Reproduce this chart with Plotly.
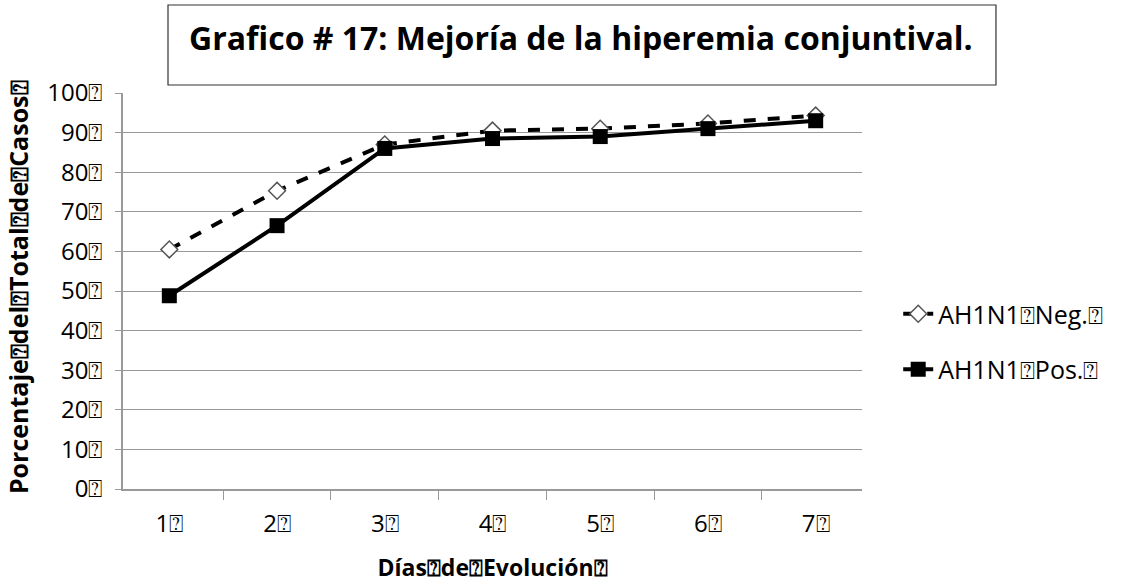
import plotly.graph_objects as go

Q = "\u2370"  # boxed question mark, as shown in the source image

days = ["1", "2", "3", "4", "5", "6", "7"]
neg_values = [60.5, 75.3, 87.0, 90.5, 91.0, 92.3, 94.3]
pos_values = [48.8, 66.5, 86.0, 88.5, 89.0, 91.0, 93.0]
y_ticks = [0, 10, 20, 30, 40, 50, 60, 70, 80, 90, 100]

day_labels = [d + Q for d in days]

fig = go.Figure()
fig.add_trace(go.Scatter(
    x=day_labels, y=neg_values, name="AH1N1" + Q + "Neg." + Q,
    mode="lines+markers", legendgroup="neg",
    line=dict(color="black", width=4, dash="dash"),
    marker=dict(symbol="diamond", size=13, color="white",
                line=dict(color="#555555", width=1.5)),
))
fig.add_trace(go.Scatter(
    x=day_labels, y=pos_values, name="AH1N1" + Q + "Pos." + Q,
    mode="lines+markers", legendgroup="pos",
    line=dict(color="black", width=4),
    marker=dict(symbol="square", size=15, color="black"),
))

# title box
fig.add_shape(type="rect", xref="paper", yref="paper",
              x0=0.0609, x1=1.1813, y0=1.0202, y1=1.2222,
              line=dict(color="#333333", width=1.2), fillcolor="white")
fig.add_annotation(xref="paper", yref="paper", x=0.62, y=1.141,
                   xanchor="center", yanchor="middle",
                   text="<b>Grafico # 17: Mejoría de la hiperemia conjuntival.</b>",
                   showarrow=False, font=dict(size=32, color="black", family="Open Sans"))

# y axis title as annotation to place it at the far left
fig.add_annotation(xref="paper", yref="paper", x=-0.142, y=0.51,
                   xanchor="center", yanchor="middle", textangle=-90,
                   text="<b>Porcentaje" + Q + "del" + Q + "Total" + Q + "de" + Q + "Casos" + Q + "</b>",
                   showarrow=False, font=dict(size=25, color="black", family="Open Sans"))

fig.update_layout(
    width=1130, height=585,
    margin=dict(l=123, r=268, t=93, b=96),
    paper_bgcolor="white", plot_bgcolor="white",
    font=dict(family="Open Sans", color="black", size=22),
    showlegend=True,
    legend=dict(x=1.049, y=0.5, xanchor="left", yanchor="top",
                tracegroupgap=20, font=dict(size=25),
                bgcolor="rgba(0,0,0,0)"),
    xaxis=dict(
        type="category", showline=True, linecolor="#999999", linewidth=1.5,
        ticks="outside", tickson="boundaries", ticklen=9, tickcolor="#999999",
        showgrid=False, tickfont=dict(size=24), automargin=False,
        ticklabelstandoff=12,
        title=dict(text="<b>Días" + Q + "de" + Q + "Evolución" + Q + "</b>",
                   font=dict(size=23), standoff=22),
    ),
    yaxis=dict(
        range=[0, 100], tickvals=y_ticks, ticktext=[f"{v}{Q}" for v in y_ticks],
        showline=True, linecolor="#999999", linewidth=1.5,
        ticks="outside", ticklen=6, tickcolor="#999999",
        showgrid=True, gridcolor="#999999", gridwidth=1.2,
        tickfont=dict(size=24), zeroline=False, automargin=False,
        ticklabelstandoff=8,
    ),
)

fig.write_html("out.html", config={"displayModeBar": False},
               post_script="document.body.style.margin='0';")
